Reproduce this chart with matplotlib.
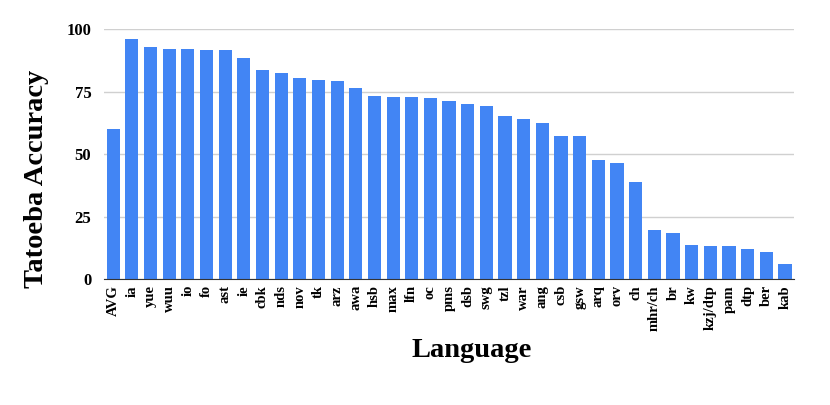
import matplotlib
matplotlib.use("Agg")
import matplotlib.pyplot as plt

languages = ['AVG', 'ia', 'yue', 'wuu', 'io', 'fo', 'ast', 'ie', 'cbk', 'nds',
             'nov', 'tk', 'arz', 'awa', 'hsb', 'max', 'lfn', 'oc', 'pms', 'dsb',
             'swg', 'tzl', 'war', 'ang', 'csb', 'gsw', 'arq', 'orv', 'ch',
             'mhr/ch', 'br', 'kw', 'kzj/dtp', 'pam', 'dtp', 'ber', 'kab']
accuracy = [60.1, 96.1, 92.8, 92.1, 92.1, 91.7, 91.7, 88.3, 83.6, 82.5,
            80.3, 79.6, 79.1, 76.3, 73.3, 72.8, 72.8, 72.3, 71.1, 69.9,
            69.3, 65.3, 64.1, 62.4, 57.3, 57.3, 47.6, 46.4, 39.1,
            19.6, 18.4, 13.7, 13.2, 13.2, 12.1, 10.9, 6.3]
yticks = [0, 25, 50, 75, 100]

plt.rcParams['font.family'] = ['Liberation Serif', 'DejaVu Serif']

fig = plt.figure(figsize=(8.3, 4.05), dpi=100)
ax = fig.add_axes([0.125, 0.31, 0.832, 0.618])

x = range(len(languages))
ax.bar(x, accuracy, width=0.7, color='#4285F4', zorder=3)

ax.set_xlim(-0.5, len(languages) - 0.5)
ax.set_ylim(0, 100)
ax.set_yticks(yticks)
ax.set_yticklabels([str(t) for t in yticks], fontsize=12, fontweight='bold')
ax.set_xticks(list(x))
ax.set_xticklabels(languages, rotation=90, fontsize=10.5, fontweight='bold')
ax.tick_params(axis='both', length=0)
ax.tick_params(axis='x', pad=4)
ax.tick_params(axis='y', pad=9)

ax.grid(axis='y', color='#d0d0d0', linewidth=1, zorder=0)
for s in ['top', 'right', 'left']:
    ax.spines[s].set_visible(False)
ax.spines['bottom'].set_color('#333333')
ax.spines['bottom'].set_zorder(4)

ax.set_ylabel('Tatoeba Accuracy', fontsize=20.5, fontweight='bold')
ax.yaxis.set_label_coords(-0.08, 0.40)
ax.set_xlabel('Language', fontsize=20.5, fontweight='bold')
ax.xaxis.set_label_coords(0.533, -0.235)

fig.savefig('out.png', dpi=100)
